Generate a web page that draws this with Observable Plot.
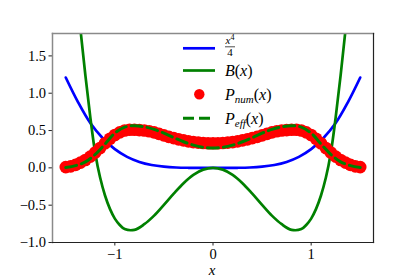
<!DOCTYPE html>
<html><head><meta charset="utf-8">
<script src="https://cdn.jsdelivr.net/npm/d3@7"></script>
<script src="https://cdn.jsdelivr.net/npm/@observablehq/plot@0.6"></script>
<style>
body{margin:0;background:#fff;}
#chart{width:415px;height:277px;position:relative;}
</style>
</head><body><div id="chart"></div>
<script>
// ---- data ----
const quartX = [-1.5,-1.375,-1.25,-1.125,-1,-0.875,-0.75,-0.625,-0.5,-0.375,-0.25,-0.125,0,0.125,0.25,0.375,0.5,0.625,0.75,0.875,1,1.125,1.25,1.375,1.5];
const quartY = [1.21,0.88,0.6,0.4,0.25,0.147,0.079,0.038,0.016,0.005,0.001,0.0001,0,0.0001,0.001,0.005,0.016,0.038,0.079,0.147,0.25,0.4,0.6,0.88,1.21];

const bX = [-1.5,-1.45,-1.4,-1.35,-1.3,-1.25,-1.2,-1.15,-1.1,-1.05,-1.0,-0.95,-0.9,-0.8,-0.7,-0.6,-0.5,-0.4,-0.3,-0.2,-0.1,0,0.1,0.2,0.3,0.4,0.5,0.6,0.7,0.8,0.9,0.95,1.0,1.05,1.1,1.15,1.2,1.25,1.3,1.35,1.4,1.45,1.5];
const bY = [4.2,3.3,2.5,1.85,1.24,0.68,0.2,-0.13,-0.37,-0.55,-0.68,-0.765,-0.82,-0.83,-0.755,-0.64,-0.495,-0.345,-0.205,-0.094,-0.024,0,-0.024,-0.094,-0.205,-0.345,-0.495,-0.64,-0.755,-0.83,-0.82,-0.765,-0.68,-0.55,-0.37,-0.13,0.2,0.68,1.24,1.85,2.5,3.3,4.2];

const pNumX = [-1.5,-1.45,-1.4,-1.35,-1.3,-1.25,-1.2,-1.15,-1.1,-1.05,-1.0,-0.95,-0.9,-0.85,-0.8,-0.75,-0.7,-0.65,-0.6,-0.55,-0.5,-0.45,-0.4,-0.35,-0.3,-0.25,-0.2,-0.15,-0.1,-0.05,0,0.05,0.1,0.15,0.2,0.25,0.3,0.35,0.4,0.45,0.5,0.55,0.6,0.65,0.7,0.75,0.8,0.85,0.9,0.95,1.0,1.05,1.1,1.15,1.2,1.25,1.3,1.35,1.4,1.45,1.5];
const pNumY = [0.01,0.02,0.04,0.07,0.105,0.15,0.205,0.265,0.33,0.39,0.44,0.475,0.5,0.51,0.51,0.505,0.5,0.49,0.475,0.455,0.435,0.415,0.398,0.382,0.368,0.355,0.345,0.338,0.333,0.33,0.33,0.33,0.333,0.338,0.345,0.355,0.368,0.382,0.398,0.415,0.435,0.455,0.475,0.49,0.5,0.505,0.51,0.51,0.5,0.475,0.44,0.39,0.33,0.265,0.205,0.15,0.105,0.07,0.04,0.02,0.01];

const pEffX = [-1.5,-1.4,-1.3,-1.2,-1.1,-1.0,-0.9,-0.8,-0.7,-0.6,-0.5,-0.4,-0.3,-0.2,-0.1,0,0.1,0.2,0.3,0.4,0.5,0.6,0.7,0.8,0.9,1.0,1.1,1.2,1.3,1.4,1.5];
const pEffY = [0.005,0.03,0.08,0.18,0.32,0.465,0.545,0.565,0.55,0.515,0.465,0.405,0.35,0.305,0.275,0.265,0.275,0.305,0.35,0.405,0.465,0.515,0.55,0.565,0.545,0.465,0.32,0.18,0.08,0.03,0.005];

const xTicks = [-1, 0, 1];
const yTicks = [-1.0, -0.5, 0.0, 0.5, 1.0, 1.5];

// ---- tables ----
const quart = quartX.map((x, i) => ({x, y: quartY[i]}));
const bData = bX.map((x, i) => ({x, y: bY[i]}));
const pNum = pNumX.map((x, i) => ({x, y: pNumY[i]}));
const pEff = pEffX.map((x, i) => ({x, y: pEffY[i]}));

const FONT = "'Liberation Serif', 'DejaVu Serif', serif";
const minus = s => s.replace("-", "\u2212");

const chart = Plot.plot({
  width: 415, height: 277,
  marginLeft: 52, marginRight: 42, marginTop: 33, marginBottom: 35,
  style: {background: "#fff", fontFamily: FONT, overflow: "visible"},
  x: {domain: [-1.635, 1.635]},
  y: {domain: [-1.0, 1.8]},
  marks: [
    Plot.line(quart, {x: "x", y: "y", stroke: "#0000ff", strokeWidth: 2.7, curve: "catmull-rom", clip: true}),
    Plot.line(bData, {x: "x", y: "y", stroke: "#008000", strokeWidth: 2.7, curve: "catmull-rom", clip: true}),
    Plot.dot(pNum, {x: "x", y: "y", r: 6.3, fill: "#ff0000", stroke: "none"}),
    Plot.line(pEff, {x: "x", y: "y", stroke: "#008000", strokeWidth: 3, strokeDasharray: "11,5", curve: "catmull-rom"}),
    Plot.axisX({ticks: xTicks, tickFormat: d => minus(String(d)), tickSize: 3.5, tickPadding: 3, fontSize: 14.5, fontFamily: FONT, fill: "#000", stroke: "#222", label: null}),
    Plot.axisY({ticks: yTicks, tickFormat: d => minus(d.toFixed(1)), tickSize: 3.5, tickPadding: 3, fontSize: 14.5, fontFamily: FONT, fill: "#000", stroke: "#222", label: null}),
    Plot.frame({anchor: "left", stroke: "#8a8a8a", strokeWidth: 1.5}),
    Plot.frame({anchor: "top", stroke: "#8a8a8a", strokeWidth: 1.5}),
    Plot.frame({anchor: "right", stroke: "#222", strokeWidth: 1.2}),
    Plot.frame({anchor: "bottom", stroke: "#222", strokeWidth: 1.2})
  ]
});
document.getElementById("chart").appendChild(chart);

// ---- axis label and legend (layout) ----
const svg = d3.select(chart);
svg.append("text").attr("x", 212).attr("y", 274.5).attr("text-anchor", "middle")
  .attr("font-family", FONT).attr("font-style", "italic").attr("font-size", 15).text("x");

const lg = svg.append("g").attr("font-family", FONT).attr("fill", "#000").attr("text-anchor", "start");
const lx0 = 183, lx1 = 215, tx = 225;
const rows = [48.3, 70.5, 94.3, 118.3];
// row 1: x^4/4
lg.append("line").attr("x1", lx0).attr("x2", lx1).attr("y1", rows[0]).attr("y2", rows[0]).attr("stroke", "#0000ff").attr("stroke-width", 2.7);
const num = lg.append("text").attr("x", tx + 0.5).attr("y", rows[0] - 4).attr("font-size", 11);
num.append("tspan").attr("font-style", "italic").text("x");
num.append("tspan").attr("font-size", 8).attr("dy", -4).text("4");
lg.append("line").attr("x1", tx).attr("x2", tx + 10).attr("y1", rows[0] - 1.5).attr("y2", rows[0] - 1.5).attr("stroke", "#000").attr("stroke-width", 0.7);
lg.append("text").attr("x", tx + 5).attr("y", rows[0] + 7.5).attr("text-anchor", "middle").attr("font-size", 11).text("4");
// row 2: B(x)
lg.append("line").attr("x1", lx0).attr("x2", lx1).attr("y1", rows[1]).attr("y2", rows[1]).attr("stroke", "#008000").attr("stroke-width", 2.7);
const bt = lg.append("text").attr("x", tx).attr("y", rows[1] + 5).attr("font-size", 16);
bt.append("tspan").attr("font-style", "italic").text("B");
bt.append("tspan").text("(");
bt.append("tspan").attr("font-style", "italic").text("x");
bt.append("tspan").text(")");
// row 3: P_num(x)
lg.append("circle").attr("cx", 199.3).attr("cy", rows[2]).attr("r", 5.2).attr("fill", "#ff0000");
const pn = lg.append("text").attr("x", tx).attr("y", rows[2] + 5.5).attr("font-size", 16);
pn.append("tspan").attr("font-style", "italic").text("P");
pn.append("tspan").attr("font-style", "italic").attr("font-size", 11).attr("dy", 3).text("num");
pn.append("tspan").attr("dy", -3).text("(");
pn.append("tspan").attr("font-style", "italic").text("x");
pn.append("tspan").text(")");
// row 4: P_eff(x)
lg.append("line").attr("x1", lx0).attr("x2", lx1).attr("y1", rows[3]).attr("y2", rows[3]).attr("stroke", "#008000").attr("stroke-width", 3).attr("stroke-dasharray", "11,5");
const pe = lg.append("text").attr("x", tx).attr("y", rows[3] + 5.5).attr("font-size", 16);
pe.append("tspan").attr("font-style", "italic").text("P");
pe.append("tspan").attr("font-style", "italic").attr("font-size", 11).attr("dy", 3).text("eff");
pe.append("tspan").attr("dy", -3).text("(");
pe.append("tspan").attr("font-style", "italic").text("x");
pe.append("tspan").text(")");
</script></body></html>
